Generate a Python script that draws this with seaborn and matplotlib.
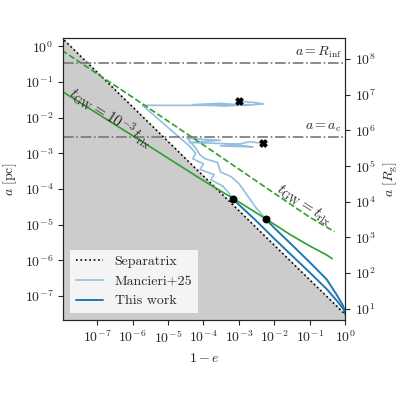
import numpy as np
import pandas as pd
import matplotlib
matplotlib.use("Agg")
import matplotlib.pyplot as plt
import seaborn as sns

sns.set_style("ticks")
plt.rcParams['font.family'] = ['serif']
plt.rcParams['font.serif'] = ['cmr10']
plt.rcParams['mathtext.fontset'] = 'cm'
plt.rcParams['axes.formatter.use_mathtext'] = True
plt.rcParams['axes.unicode_minus'] = False

# separatrix a = sep_c / (1-e)^sep_p
sep_c = 3e-8
sep_p = 0.97
rg_per_pc = 2.3e8
a_inf = 0.33
a_c = 2.8e-3

# t_GW = 1e-3 t_rlx
gw3_x = [1e-8, 1e-6, 1e-4, 1e-3, 6e-3, 3e-2, 0.1, 0.3, 0.43]
gw3_a = [0.055, 3.1e-3, 1.7e-4, 4.3e-5, 1.4e-5, 5e-6, 2.5e-6, 1.4e-6, 1.1e-6]
# t_GW = t_rlx
gw_x = [1e-8, 1e-6, 1e-4, 1e-2, 0.1, 0.5]
gw_a = [0.77, 0.037, 1.7e-3, 7.5e-5, 1.6e-5, 6.3e-6]

# this work
tw1_x = [6.7e-4, 3e-3, 1e-2, 3e-2, 0.1, 0.3, 0.6, 0.9, 1.0]
tw1_a = [5.2e-5, 1.3e-5, 4e-6, 1.4e-6, 4.5e-7, 1.55e-7, 7e-8, 4.2e-8, 3.1e-8]
tw2_x = [5.8e-3, 1e-2, 3e-2, 0.1, 0.3, 0.6, 0.85, 0.97, 1.0]
tw2_a = [1.4e-5, 8e-6, 2.8e-6, 8.7e-7, 2.9e-7, 1e-7, 5.5e-8, 3.8e-8, 3.1e-8]

# Mancieri+25 tracks
m1_x = [1e-3, 3e-3, 5e-3, 1.5e-3, 3e-4, 5e-5, 4e-4, 2e-3, 1e-4, 1.9e-6, 2.6e-5,
        4e-5, 6e-5, 5e-5, 1e-4, 8e-5, 2e-4, 1.6e-4, 3.5e-4, 5e-4, 6.7e-4]
m1_a = [0.029, 0.026, 0.024, 0.022, 0.025, 0.023, 0.021, 0.023, 0.022, 0.022, 2.3e-3,
        1.6e-3, 1e-3, 7e-4, 5e-4, 3.5e-4, 2.5e-4, 1.8e-4, 1.2e-4, 8e-5, 5.5e-5]
m2_x = [4.7e-3, 2e-3, 8e-4, 2.5e-3, 3e-4, 1e-3, 4e-5, 3e-4, 3.5e-5, 6e-5, 8e-5, 1.1e-4,
        2.5e-4, 3e-4, 6e-4, 1e-3, 1.5e-3, 3e-3, 5.8e-3]
m2_a = [1.9e-3, 2.1e-3, 1.7e-3, 1.5e-3, 1.6e-3, 1.8e-3, 2.0e-3, 2.3e-3, 2.6e-3, 1.4e-3, 9e-4, 7e-4,
        5.5e-4, 3e-4, 2.2e-4, 1.4e-4, 8e-5, 3e-5, 1.4e-5]

fig = plt.figure(figsize=(4, 4), dpi=100)
ax = fig.add_axes([0.158, 0.2, 0.705, 0.705])
ax.set_xscale('log')
ax.set_yscale('log')

xs = np.logspace(-9, 0, 50)
sep = sep_c / xs ** sep_p
ax.fill_between(xs, 1e-10, sep, color='#cccccc', zorder=0)
sns.lineplot(x=xs, y=sep, ax=ax, color='k', ls=':', lw=1.2, label='Separatrix')

light = '#94bfdf'
sns.lineplot(x=m1_x, y=m1_a, ax=ax, sort=False, estimator=None, color=light, lw=1.2, label='Mancieri+25')
sns.lineplot(x=m2_x, y=m2_a, ax=ax, sort=False, estimator=None, color=light, lw=1.2)
sns.lineplot(x=tw1_x, y=tw1_a, ax=ax, sort=False, estimator=None, color='#1f77b4', lw=1.4, label='This work')
sns.lineplot(x=tw2_x, y=tw2_a, ax=ax, sort=False, estimator=None, color='#1f77b4', lw=1.4)
sns.lineplot(x=gw3_x, y=gw3_a, ax=ax, sort=False, color='#2ca02c', lw=1.2)
sns.lineplot(x=gw_x, y=gw_a, ax=ax, sort=False, color='#2ca02c', lw=1.2, ls='--')
ax.scatter([tw1_x[0], tw2_x[0]], [tw1_a[0], tw2_a[0]], color='k', s=22, zorder=5)
ax.scatter([m1_x[0], m2_x[0]], [m1_a[0], m2_a[0]], color='k', marker='X', s=25, zorder=5)

for yv, lab in [(a_inf, r'$a=R_{\rm inf}$'), (a_c, r'$a=a_{\rm c}$')]:
    ax.axhline(yv, color='#777777', ls='-.', lw=1.2)
    ax.text(0.8, yv * 1.25, lab, ha='right', va='bottom', fontsize=10)

ax.text(2.5e-7, 1e-2, r'$t_{\rm GW}=10^{-3}\,t_{\rm rlx}$', rotation=-33, ha='center', va='center', fontsize=11)
ax.text(7e-2, 3.5e-5, r'$t_{\rm GW}=t_{\rm rlx}$', rotation=-33, ha='center', va='center', fontsize=11)

ax.set_xlim(1.1e-8, 1)
ax.set_ylim(2.1e-8, 1.7)
ax.set_xticks([10.0**k for k in range(-7, 1)])
ax.set_yticks([10.0**k for k in range(-7, 1)])
ax.minorticks_off()
ax.set_xlabel(r'$1-e$', fontsize=10)
ax.set_ylabel(r'$a\ [\rm pc]$', fontsize=10)
ax.tick_params(labelsize=10)

ax2 = ax.twinx()
ax2.set_yscale('log')
ax2.set_ylim(2.1e-8 * rg_per_pc, 1.7 * rg_per_pc)
ax2.set_yticks([10.0**k for k in range(1, 9)])
ax2.minorticks_off()
ax2.set_ylabel(r'$a\ [R_{\rm g}]$', fontsize=10)
ax2.tick_params(labelsize=10)

ax.legend(loc='lower left', fontsize=10, frameon=True, fancybox=False, framealpha=0.8, edgecolor='none')

fig.savefig('out.png', dpi=100)
